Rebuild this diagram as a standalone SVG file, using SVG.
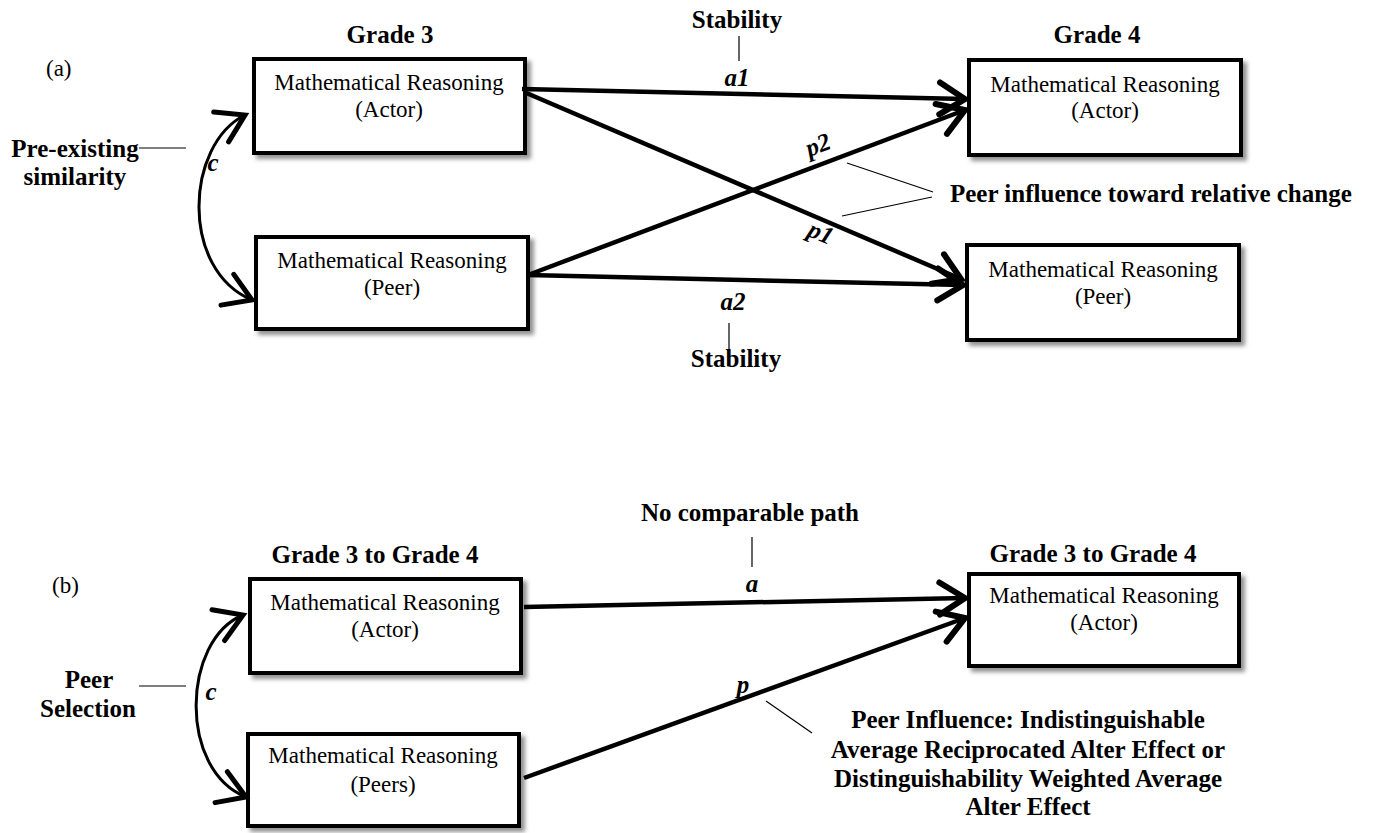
<svg xmlns="http://www.w3.org/2000/svg" width="1373" height="833" viewBox="0 0 1373 833">
<style>
  .box { fill: #ffffff; stroke: #000000; stroke-width: 4; filter: url(#shadow); }
  .bt { font-family: "Liberation Serif", "Times New Roman", serif; font-size: 23px; fill: #000; text-anchor: middle; }
  .lb { font-family: "Liberation Serif", "Times New Roman", serif; font-size: 25px; font-weight: bold; fill: #000; text-anchor: middle; }
  .lbs { font-family: "Liberation Serif", "Times New Roman", serif; font-size: 25px; font-weight: bold; fill: #000; }
  .it { font-family: "Liberation Serif", "Times New Roman", serif; font-size: 25px; font-weight: bold; font-style: italic; fill: #000; text-anchor: middle; }
  .pl { font-family: "Liberation Serif", "Times New Roman", serif; font-size: 23px; fill: #000; }
  .path { fill: none; stroke: #000; stroke-width: 4.5; marker-end: url(#arrow); }
  .cov { fill: none; stroke: #000; stroke-width: 3; marker-start: url(#carrow); marker-end: url(#carrow); }
  .thin { fill: none; stroke: #000; stroke-width: 1.2; }
</style>
<defs>
  <filter id="shadow" x="-10%" y="-10%" width="130%" height="140%">
    <feDropShadow dx="4" dy="4" stdDeviation="2" flood-color="#7f7f7f" flood-opacity="0.85"/>
  </filter>
  <marker id="arrow" markerUnits="userSpaceOnUse" markerWidth="40" markerHeight="40" viewBox="-25 -15 30 30" refX="0" refY="0" orient="auto" overflow="visible">
    <path d="M -19 -12 L 0 0 L -19 12" fill="none" stroke="#000" stroke-width="4.5" stroke-linecap="round" stroke-linejoin="miter"/>
  </marker>
  <marker id="carrow" markerUnits="userSpaceOnUse" markerWidth="40" markerHeight="40" viewBox="-20 -12 24 24" refX="0" refY="0" orient="auto-start-reverse" overflow="visible">
    <path d="M -16 -10 L 0 0 L -16 10" fill="none" stroke="#000" stroke-width="3" stroke-linecap="round"/>
  </marker>
</defs>
<rect width="1373" height="833" fill="#ffffff"/>

<!-- Panel (a) labels -->
<g id="labels-a">
  <text class="pl" x="46" y="76">(a)</text>
  <text class="lb" x="390" y="43">Grade 3</text>
  <text class="lb" x="1097" y="43">Grade 4</text>
  <text class="lb" x="737" y="28">Stability</text>
  <text class="lb" x="736" y="367">Stability</text>
  <text class="lb" x="75" y="157">Pre-existing</text>
  <text class="lb" x="75" y="185">similarity</text>
  <text class="lbs" x="950" y="202">Peer influence toward relative change</text>
  <text class="it" x="737" y="86">a1</text>
  <text class="it" x="733" y="310">a2</text>
  <text class="it" transform="translate(818,145) rotate(-21)" dy="8">p2</text>
  <text class="it" transform="translate(821,233) rotate(23)" dy="8">p1</text>
  <text class="it" x="213" y="171">c</text>
</g>

<!-- Panel (a) nodes -->
<g id="node-a-actor3">
  <rect class="box" x="254" y="59" width="271" height="94"/>
  <text class="bt" x="389" y="90">Mathematical Reasoning</text>
  <text class="bt" x="389" y="117">(Actor)</text>
</g>
<g id="node-a-peer3">
  <rect class="box" x="256" y="237" width="272" height="92"/>
  <text class="bt" x="392" y="268">Mathematical Reasoning</text>
  <text class="bt" x="392" y="295">(Peer)</text>
</g>
<g id="node-a-actor4">
  <rect class="box" x="969" y="60" width="272" height="95"/>
  <text class="bt" x="1105" y="92">Mathematical Reasoning</text>
  <text class="bt" x="1105" y="118">(Actor)</text>
</g>
<g id="node-a-peer4">
  <rect class="box" x="967" y="245" width="272" height="95"/>
  <text class="bt" x="1103" y="277">Mathematical Reasoning</text>
  <text class="bt" x="1103" y="304">(Peer)</text>
</g>

<!-- Panel (b) labels -->
<g id="labels-b">
  <text class="pl" x="52" y="593">(b)</text>
  <text class="lb" x="375" y="563">Grade 3 to Grade 4</text>
  <text class="lb" x="1093" y="562">Grade 3 to Grade 4</text>
  <text class="lb" x="750" y="521">No comparable path</text>
  <text class="lb" x="89" y="688">Peer</text>
  <text class="lb" x="88" y="717">Selection</text>
  <text class="it" x="752" y="592">a</text>
  <text class="it" x="743" y="693">p</text>
  <text class="it" x="211" y="700">c</text>
  <text class="lb" x="1028" y="728">Peer Influence: Indistinguishable</text>
  <text class="lb" x="1028" y="758">Average Reciprocated Alter Effect or</text>
  <text class="lb" x="1028" y="787">Distinguishability Weighted Average</text>
  <text class="lb" x="1028" y="815">Alter Effect</text>
</g>

<!-- Panel (b) nodes -->
<g id="node-b-actor">
  <rect class="box" x="250" y="579" width="271" height="94"/>
  <text class="bt" x="385" y="610">Mathematical Reasoning</text>
  <text class="bt" x="385" y="637">(Actor)</text>
</g>
<g id="node-b-peers">
  <rect class="box" x="248" y="734" width="271" height="92"/>
  <text class="bt" x="383" y="763">Mathematical Reasoning</text>
  <text class="bt" x="383" y="792">(Peers)</text>
</g>
<g id="node-b-actor4">
  <rect class="box" x="969" y="574" width="270" height="92"/>
  <text class="bt" x="1104" y="603">Mathematical Reasoning</text>
  <text class="bt" x="1104" y="630">(Actor)</text>
</g>

<!-- Connectors -->
<g id="connectors">
  <path class="path" d="M 522 89 L 965 99"/>
  <path class="path" d="M 524 92 L 961 279"/>
  <path class="path" d="M 528 275 L 965 110"/>
  <path class="path" d="M 528 275 L 963 285"/>
  <path class="cov" d="M 245 115 C 185 145, 180 270, 252 300"/>
  <line class="thin" x1="739" y1="36" x2="739" y2="61"/>
  <line class="thin" x1="729" y1="323" x2="729" y2="350"/>
  <line class="thin" x1="139" y1="148" x2="186" y2="148"/>
  <line class="thin" x1="847" y1="163" x2="933" y2="192"/>
  <line class="thin" x1="842" y1="216" x2="932" y2="197"/>

  <path class="path" d="M 524 607 L 965 598"/>
  <path class="path" d="M 524 778 L 965 618"/>
  <path class="cov" d="M 243 615 C 182 640, 178 770, 246 797"/>
  <line class="thin" x1="752" y1="537" x2="752" y2="567"/>
  <line class="thin" x1="139" y1="686" x2="186" y2="686"/>
  <line class="thin" x1="766" y1="701" x2="812" y2="733"/>
</g>
</svg>
